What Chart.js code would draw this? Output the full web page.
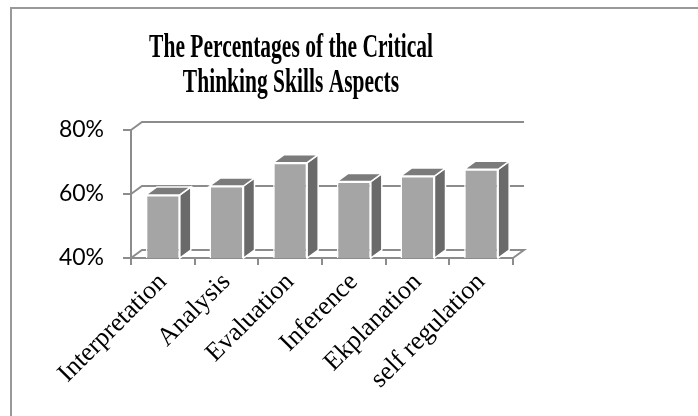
<!DOCTYPE html>
<html>
<head>
<meta charset="utf-8">
<script src="https://cdn.jsdelivr.net/npm/chart.js@4.4.1/dist/chart.umd.min.js"></script>
<style>
    body { margin: 0; background: #fff; }
    #wrap { width: 698px; height: 416px; }
</style>
</head>
<body>
<div id="wrap"><canvas id="skillsChart" width="698" height="416"></canvas></div>
<script>
// chart data
let titleLines = ["The Percentages of the Critical", "Thinking Skills Aspects"];
let skillNames = ["Interpretation", "Analysis", "Evaluation", "Inference", "Ekplanation", "self regulation"];
let skillPercent = [59.7, 62.5, 69.8, 63.9, 65.6, 67.7];
let yTickValues = [40, 60, 80];

let gridGray = "#8c8c8c";
let depthX = 11;
let depthY = -8;

// draws the back wall, the side/top faces of the bars, and the title
let threeDPlugin = {
    id: "threeD",
    beforeDatasetsDraw: function (chart) {
        let ctx = chart.ctx;
        let area = chart.chartArea;
        let yScale = chart.scales.y;

        ctx.save();
        ctx.strokeStyle = gridGray;
        ctx.lineWidth = 2;
        yTickValues.forEach(function (v, i) {
            let yf = yScale.getPixelForValue(v);
            ctx.beginPath();
            ctx.moveTo(area.left, yf);
            ctx.lineTo(area.left + depthX, yf + depthY);
            ctx.lineTo(area.right + depthX, yf + depthY);
            if (i === 0) {
                ctx.lineTo(area.right, yf);
            }
            ctx.stroke();
        });

        let meta = chart.getDatasetMeta(0);
        ctx.lineWidth = 1.5;
        ctx.strokeStyle = "#ffffff";
        meta.data.forEach(function (bar) {
            let x0 = bar.x - bar.width / 2;
            let x1 = bar.x + bar.width / 2;
            let top = bar.y;
            // base sits at value 0, below the axis min, so clamp it to the floor
            let base = Math.min(bar.base, area.bottom);

            // right side
            ctx.fillStyle = "#6a6a6a";
            ctx.beginPath();
            ctx.moveTo(x1, top);
            ctx.lineTo(x1 + depthX, top + depthY);
            ctx.lineTo(x1 + depthX, base + depthY);
            ctx.lineTo(x1, base);
            ctx.closePath();
            ctx.fill();
            ctx.stroke();

            // top
            ctx.fillStyle = "#7b7b7b";
            ctx.beginPath();
            ctx.moveTo(x0, top);
            ctx.lineTo(x0 + depthX, top + depthY);
            ctx.lineTo(x1 + depthX, top + depthY);
            ctx.lineTo(x1, top);
            ctx.closePath();
            ctx.fill();
            ctx.stroke();
        });
        ctx.restore();
    },
    afterDraw: function (chart) {
        let ctx = chart.ctx;
        ctx.save();
        // outer frame
        ctx.strokeStyle = "#999999";
        ctx.lineWidth = 2;
        ctx.beginPath();
        ctx.moveTo(11, 420);
        ctx.lineTo(11, 8);
        ctx.lineTo(700, 8);
        ctx.stroke();

        // title, tall condensed look
        ctx.fillStyle = "#000000";
        ctx.font = "bold 21.5px 'Liberation Serif'";
        ctx.textAlign = "center";
        ctx.textBaseline = "alphabetic";
        let baselines = [57, 92];
        titleLines.forEach(function (line, i) {
            ctx.save();
            ctx.translate(291, baselines[i]);
            ctx.scale(1, 1.55);
            ctx.fillText(line, 0, 0);
            ctx.restore();
        });
        ctx.restore();
    }
};

new Chart(document.getElementById("skillsChart"), {
    type: "bar",
    data: {
        labels: skillNames,
        datasets: [
            {
                label: "Percentage",
                data: skillPercent,
                backgroundColor: "#a5a5a5",
                borderColor: "#ffffff",
                borderWidth: 1.5,
                categoryPercentage: 1,
                barPercentage: 0.534
            }
        ]
    },
    options: {
        responsive: false,
        animation: false,
        devicePixelRatio: 1,
        layout: {
            padding: { left: 0, right: 185, top: 130, bottom: 0 }
        },
        plugins: {
            legend: { display: false },
            title: { display: false },
            tooltip: { enabled: false }
        },
        scales: {
            x: {
                grid: {
                    offset: true,
                    drawOnChartArea: false,
                    drawTicks: true,
                    tickLength: 7,
                    color: gridGray,
                    lineWidth: 2
                },
                border: { display: true, color: gridGray, width: 2 },
                ticks: {
                    autoSkip: false,
                    minRotation: 45,
                    maxRotation: 45,
                    padding: 2,
                    color: "#000000",
                    font: { family: "'Liberation Serif'", size: 26 }
                },
                afterFit: function (scale) {
                    scale.height = 158;
                }
            },
            y: {
                min: 40,
                max: 80,
                grid: {
                    drawOnChartArea: false,
                    drawTicks: true,
                    tickLength: 8,
                    color: gridGray,
                    lineWidth: 2
                },
                border: { display: true, color: gridGray, width: 2 },
                ticks: {
                    stepSize: 20,
                    padding: 19,
                    color: "#000000",
                    font: { family: "Lato", size: 23 },
                    callback: function (v) {
                        return v + "%";
                    }
                },
                afterFit: function (scale) {
                    scale.width = 131;
                }
            }
        }
    },
    plugins: [threeDPlugin]
});
</script>
</body>
</html>
